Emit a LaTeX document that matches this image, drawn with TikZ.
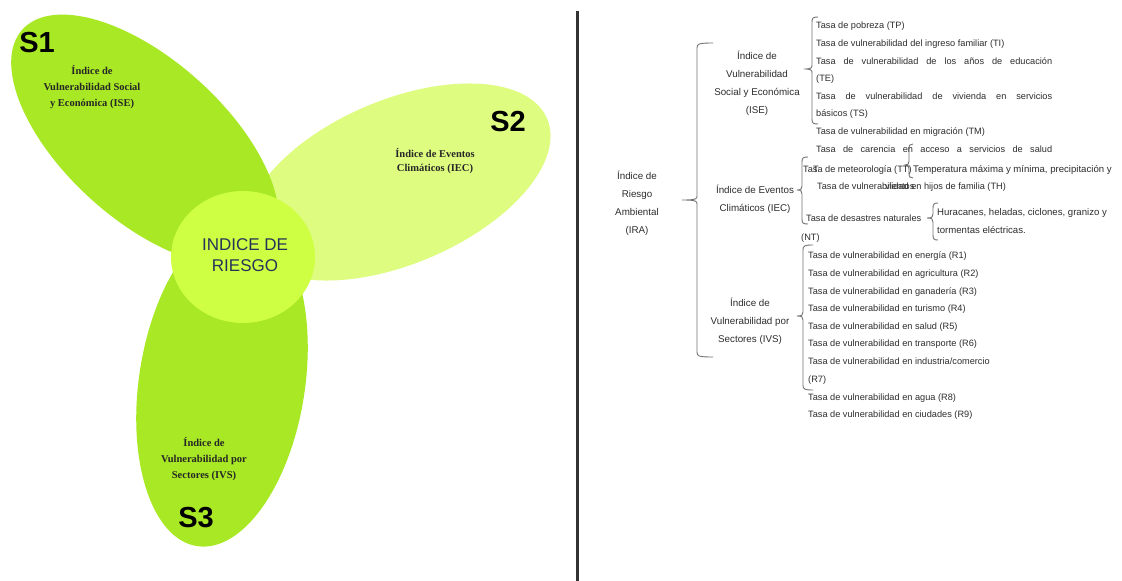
\documentclass[tikz,border=0pt]{standalone}
\usepackage{fontspec}
\setmainfont{Liberation Serif}
\newfontfamily\arial{Liberation Sans}
\definecolor{petalA}{RGB}{168,232,36}
\definecolor{petalB}{RGB}{222,252,128}
\definecolor{hubc}{RGB}{206,255,66}
\definecolor{navy}{RGB}{38,52,88}
\definecolor{txt}{RGB}{45,45,45}
\definecolor{brcol}{RGB}{115,115,115}
\newcommand\curlybr[6]{%
\draw[brace line] ({#1+#6},#2) .. controls ({#1+1},#2) and (#1,{#2+1}) .. (#1,{#2+5})
 -- (#1,{#4-4}) .. controls (#1,{#4-1}) and ({#1-1},#4) .. (#5,#4)
 .. controls ({#1-1},#4) and (#1,{#4+1}) .. (#1,{#4+4})
 -- (#1,{#3-5}) .. controls (#1,{#3-1}) and ({#1+1},#3) .. ({#1+#6},#3);}
\begin{document}
\begin{tikzpicture}[x=1pt,y=-1pt,
  slabel/.style={font=\arial\bfseries\fontsize{29}{29}\selectfont, inner sep=0pt, text=black},
  ptext/.style={font=\bfseries\fontsize{10.5}{15.8}\selectfont, align=center, inner sep=0pt, text=black!85},
  hubtext/.style={font=\arial\fontsize{17}{21}\selectfont, align=center, inner sep=0pt, text=navy},
  item/.style={font=\arial\fontsize{9.2}{11}\selectfont, text=txt, anchor=west, inner sep=0pt, text height=6.6pt, text depth=0pt},
  glabel/.style={font=\arial\fontsize{9.8}{18}\selectfont, text=txt, align=center, inner sep=0pt},
  brace line/.style={draw=brcol, line width=0.9pt},
  divider/.style={draw=black!80, line width=3pt}
]
\useasboundingbox (0,0) rectangle (1122,581);
\fill[white] (0,0) rectangle (1122,581);

% petals
\fill[petalB] (398,182) ellipse [x radius=162, y radius=82, rotate=23];
\fill[petalA] (145,140) ellipse [x radius=165, y radius=80, rotate=-42];
\fill[petalA] (222,383) ellipse [x radius=165, y radius=83, rotate=81.3];
\fill[hubc] (243,257) ellipse [x radius=72, y radius=66];

\node[slabel] (s1) at (37,43) {S1};
\node[slabel] (s2) at (508,122) {S2};
\node[slabel] (s3) at (196,518) {S3};

\node[ptext] (pise) at (92,87) {Índice de\\Vulnerabilidad Social\\y Económica (ISE)};
\node[ptext, font=\bfseries\fontsize{10.5}{14.3}\selectfont] (piec) at (435,161) {Índice de Eventos\\Climáticos (IEC)};
\node[ptext] (pivs) at (204,459) {Índice de\\Vulnerabilidad por\\Sectores (IVS)};

\node[hubtext] (hub) at (245,255) {INDICE DE\\RIESGO};

% divider
\coordinate (dtop) at (577,11);
\coordinate (dbot) at (577,581);
\draw[divider] (dtop) -- (dbot);

% group labels
\node[glabel] (ira) at (637,203) {Índice de\\Riesgo\\Ambiental\\(IRA)};
\node[glabel] (ise) at (757,83) {Índice de\\Vulnerabilidad\\Social y Económica\\(ISE)};
\node[glabel] (iec) at (755,199) {Índice de Eventos\\Climáticos (IEC)};
\node[glabel] (ivs) at (750,321) {Índice de\\Vulnerabilidad por\\Sectores (IVS)};

% braces
\curlybr{697}{43}{357}{200}{682}{16}
\curlybr{812}{17}{124}{69}{804}{6}
\curlybr{802}{157}{224}{190}{797}{6}
\curlybr{909}{144}{178}{165}{905}{4}
\curlybr{933}{203}{240}{218}{927}{5}
\curlybr{803}{245}{390}{316}{797}{10}

% ISE items
\node[item] (tp) at (816,25) {Tasa de pobreza (TP)};
\node[item] (ti) at (816,43) {Tasa de vulnerabilidad del ingreso familiar (TI)};
\node[item] (te) at (816,61) {\makebox[236pt][s]{Tasa de vulnerabilidad de los años de educación}};
\node[item] (te2) at (816,78) {(TE)};
\node[item] (ts) at (816,96) {\makebox[236pt][s]{Tasa de vulnerabilidad de vivienda en servicios}};
\node[item] (ts2) at (816,113) {básicos (TS)};
\node[item] (tm) at (816,131) {Tasa de vulnerabilidad en migración (TM)};
\node[item] (tc) at (816,149) {\makebox[236pt][s]{Tasa de carencia en acceso a servicios de salud}};

% IEC items
\node[item] (tt) at (803,169) {Tasa de meteorología (TT)};
\node[item] (ttx) at (813,169) {T};
\node[item, font=\arial\fontsize{9.6}{11}\selectfont] (temp) at (913,169) {Temperatura máxima y mínima, precipitación y};
\node[item] (th) at (817,186) {Tasa de vulnerabilidad en hijos de familia (TH)};
\node[item] (vien) at (885,186) {vientos};
\node[item] (nt) at (806,218) {Tasa de desastres naturales};
\node[item] (nt2) at (801,237) {(NT)};
\node[item, font=\arial\fontsize{9.6}{11}\selectfont] (hur) at (937,212) {Huracanes, heladas, ciclones, granizo y};
\node[item, font=\arial\fontsize{9.6}{11}\selectfont] (tor) at (937,230) {tormentas eléctricas.};

% IVS items
\node[item] (r1) at (808,255) {Tasa de vulnerabilidad en energía (R1)};
\node[item] (r2) at (808,273) {Tasa de vulnerabilidad en agricultura (R2)};
\node[item] (r3) at (808,291) {Tasa de vulnerabilidad en ganadería (R3)};
\node[item] (r4) at (808,308) {Tasa de vulnerabilidad en turismo (R4)};
\node[item] (r5) at (808,326) {Tasa de vulnerabilidad en salud (R5)};
\node[item] (r6) at (808,343) {Tasa de vulnerabilidad en transporte (R6)};
\node[item] (r7) at (808,361) {Tasa de vulnerabilidad en industria/comercio};
\node[item] (r7b) at (808,379) {(R7)};
\node[item] (r8) at (808,397) {Tasa de vulnerabilidad en agua (R8)};
\node[item] (r9) at (808,414) {Tasa de vulnerabilidad en ciudades (R9)};
\end{tikzpicture}
\end{document}
